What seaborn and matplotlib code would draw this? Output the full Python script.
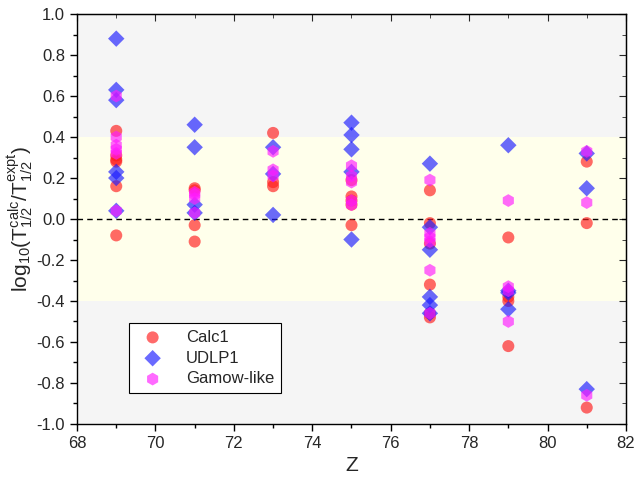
import numpy as np
import pandas as pd
import matplotlib
matplotlib.use("Agg")
import matplotlib.pyplot as plt
from matplotlib.ticker import MultipleLocator
import seaborn as sns

sns.set_style("ticks")
plt.rcParams["font.family"] = ["Liberation Sans", "DejaVu Sans"]
plt.rcParams["mathtext.fontset"] = "custom"
plt.rcParams["mathtext.rm"] = "Liberation Sans"
plt.rcParams["mathtext.it"] = "Liberation Sans:italic"

# ------------------------------------------------------------
# DATA
# ------------------------------------------------------------
z_calc1 = [69, 69, 69, 69, 69, 69, 71, 71, 71, 71, 73, 73, 73,
           75, 75, 75, 75, 75, 77, 77, 77, 77, 77, 77,
           79, 79, 79, 79, 81, 81, 81]
calc1 = [0.43, 0.31, 0.29, 0.28, 0.16, -0.08,
         0.15, 0.14, -0.03, -0.11,
         0.42, 0.18, 0.16,
         0.19, 0.11, 0.09, 0.07, -0.03,
         0.14, -0.02, -0.12, -0.32, -0.46, -0.48,
         -0.09, -0.38, -0.40, -0.62,
         0.28, -0.02, -0.92]

z_udlp1 = z_calc1
udlp1 = [0.88, 0.63, 0.58, 0.23, 0.20, 0.04,
         0.46, 0.35, 0.07, 0.03,
         0.35, 0.22, 0.02,
         0.47, 0.41, 0.34, 0.23, -0.10,
         0.27, -0.04, -0.15, -0.38, -0.42, -0.46,
         0.36, -0.35, -0.36, -0.44,
         0.32, 0.15, -0.83]

z_gamow = z_calc1
gamow = [0.60, 0.40, 0.36, 0.34, 0.32, 0.04,
         0.13, 0.12, 0.10, 0.03,
         0.33, 0.24, 0.21,
         0.26, 0.21, 0.18, 0.09, 0.07,
         0.19, -0.07, -0.09, -0.11, -0.25, -0.46,
         0.09, -0.33, -0.35, -0.50,
         0.33, 0.08, -0.86]

series = [
    ("Calc1", z_calc1, calc1, "o", "#FF1A1A", 75),
    ("UDLP1", z_udlp1, udlp1, "D", "#1A1AFF", 70),
    ("Gamow-like", z_gamow, gamow, "h", "#FF1AFF", 85),
]

# ------------------------------------------------------------
# PLOT
# ------------------------------------------------------------
fig = plt.figure(figsize=(6.42, 4.84), dpi=100)
ax = fig.add_axes([0.12, 0.124, 0.855, 0.847])
ax.set_facecolor("#F5F5F5")

ax.axhspan(-0.4, 0.4, color="#FFFFEB", zorder=0, lw=0)
ax.axhline(0.0, color="black", ls=(0, (4, 3)), lw=1.0, zorder=1)

for name, zs, vals, mk, col, size in series:
    df = pd.DataFrame({"Z": zs, "val": vals})
    sns.scatterplot(data=df, x="Z", y="val", marker=mk, color=col,
                    s=size, alpha=0.65, edgecolor="none", label=name,
                    ax=ax, zorder=3)

ax.set_xlim(68, 82)
ax.set_ylim(-1.0, 1.0)
ax.xaxis.set_major_locator(MultipleLocator(2))
ax.xaxis.set_minor_locator(MultipleLocator(1))
ax.yaxis.set_major_locator(MultipleLocator(0.2))
ax.yaxis.set_minor_locator(MultipleLocator(0.1))
ax.yaxis.set_major_formatter(matplotlib.ticker.FormatStrFormatter("%.1f"))

ax.tick_params(which="both", direction="out", top=False, right=False,
               labelsize=12, width=1.0, color="black")
ax.tick_params(which="major", length=5)
ax.tick_params(which="minor", length=3)
for sp in ax.spines.values():
    sp.set_visible(True)
    sp.set_color("black")
    sp.set_linewidth(1.0)

sec_x = ax.secondary_xaxis("top")
sec_x.xaxis.set_major_locator(MultipleLocator(2))
sec_x.xaxis.set_minor_locator(MultipleLocator(1))
sec_x.tick_params(which="both", direction="in", labeltop=False)
sec_x.tick_params(which="major", length=5)
sec_x.tick_params(which="minor", length=3)
sec_y = ax.secondary_yaxis("right")
sec_y.yaxis.set_major_locator(MultipleLocator(0.2))
sec_y.yaxis.set_minor_locator(MultipleLocator(0.1))
sec_y.tick_params(which="both", direction="in", labelright=False)
sec_y.tick_params(which="major", length=5)
sec_y.tick_params(which="minor", length=3)

ax.set_xlabel("Z", fontsize=15)
ax.set_ylabel(r"log$_{10}$(T$_{1/2}^{\rm calc}$/T$_{1/2}^{\rm expt}$)",
              fontsize=15, labelpad=1)

leg = ax.legend(loc="lower left", bbox_to_anchor=(0.08, 0.055),
                fontsize=12, frameon=True, fancybox=False,
                edgecolor="black", framealpha=1.0, borderpad=0.4,
                handletextpad=1.0, labelspacing=0.35)
leg.get_frame().set_linewidth(0.8)

fig.savefig("out.png", dpi=100)
